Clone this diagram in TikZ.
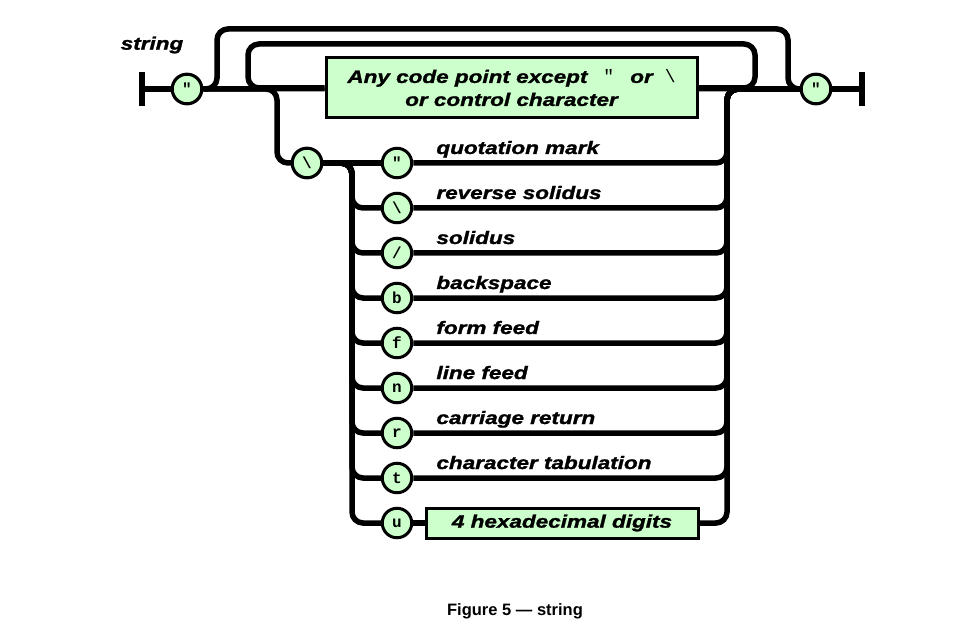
\documentclass[tikz,border=0pt]{standalone}
\usepackage{fontspec}
\setmainfont{Liberation Sans}
\newfontfamily\railfont[FakeStretch=1.25, BoldItalicFeatures={FakeBold=1.5}]{Liberation Sans}
\newfontfamily\termfont{Liberation Mono}
\definecolor{railgreen}{RGB}{204,255,204}
\begin{document}
\begin{tikzpicture}[x=1pt, y=-1pt,
        rail/.style = {line width=5.5pt, rounded corners=11pt},
        bar/.style = {fill=black, inner sep=0pt, minimum width=5.5pt, minimum height=34pt},
        term/.style = {circle, draw, line width=3pt, fill=railgreen, inner sep=0pt,
                       minimum size=29.5pt, font=\termfont\bfseries\fontsize{16}{16}\selectfont},
        nonterm/.style = {draw, line width=3pt, fill=railgreen, inner sep=0pt, align=center,
                          font=\railfont\bfseries\itshape\fontsize{18}{23}\selectfont},
        lbl/.style = {inner sep=0pt, anchor=base west,
                      font=\railfont\bfseries\itshape\fontsize{18}{18}\selectfont}]
    \useasboundingbox (0,0) rectangle (975,631);

    % name of the rule
    \node[lbl, anchor=center] (name) at (152,45) {string};

    % main line
    \node[bar] (start) at (142,89) {};
    \node[term] (open) at (187,89) {"};
    \node[nonterm, minimum width=371pt, minimum height=60pt] (anychar) at (511.5,88)
        {Any code point except\hspace{16pt}{\termfont\mdseries\upshape "}\hspace{16pt}or\hspace{12pt}{\termfont\mdseries\upshape\textbackslash}\\or control character};
    \node[term] (close) at (816,89) {"};
    \node[bar] (stop) at (862,89) {};

    \coordinate (outerL) at (217,29);
    \coordinate (outerR) at (788,29);
    \coordinate (innerL) at (248,44);
    \coordinate (innerR) at (755,44);
    \coordinate (escdrop) at (277,130);
    \coordinate (ret) at (727,89);

    \draw[rail] (start) -- (open);
    \draw[rail] (open) -- (anychar);
    \draw[rail] (anychar) -- (close);
    \draw[rail] (close) -- (stop);
    \draw[rail] (open.east) -| (outerL) -- (outerR) |- (close.west);
    \draw[rail] (anychar.east) -| (innerR) -- (innerL) |- (anychar.west);

    % escapes
    \node[term] (esc) at (307,163) {\textbackslash};
    \draw[rail] (open.east) -| (escdrop) |- (esc.west);

    \node[term] (quote) at (397,163) {"};
    \node[term] (rsolidus) at (397,208) {\textbackslash};
    \node[term] (solidus) at (397,253) {/};
    \node[term] (bksp) at (397,298) {b};
    \node[term] (ffeed) at (397,343) {f};
    \node[term] (lfeed) at (397,388) {n};
    \node[term] (cret) at (397,433) {r};
    \node[term] (tab) at (397,478) {t};
    \node[term] (hexu) at (397,523) {u};
    \node[nonterm, minimum width=272pt, minimum height=30pt] (hexdigits) at (562,523)
        {4 hexadecimal digits};

    \node[lbl] (lquote) at ([xshift=23pt,yshift=9pt]quote.east) {quotation mark};
    \node[lbl] (lrsolidus) at ([xshift=23pt,yshift=9pt]rsolidus.east) {reverse solidus};
    \node[lbl] (lsolidus) at ([xshift=23pt,yshift=9pt]solidus.east) {solidus};
    \node[lbl] (lbksp) at ([xshift=23pt,yshift=9pt]bksp.east) {backspace};
    \node[lbl] (lffeed) at ([xshift=23pt,yshift=9pt]ffeed.east) {form feed};
    \node[lbl] (llfeed) at ([xshift=23pt,yshift=9pt]lfeed.east) {line feed};
    \node[lbl] (lcret) at ([xshift=23pt,yshift=9pt]cret.east) {carriage return};
    \node[lbl] (ltab) at ([xshift=23pt,yshift=9pt]tab.east) {character tabulation};

    \coordinate (f2) at (352,208);
    \coordinate (f3) at (352,253);
    \coordinate (f4) at (352,298);
    \coordinate (f5) at (352,343);
    \coordinate (f6) at (352,388);
    \coordinate (f7) at (352,433);
    \coordinate (f8) at (352,478);
    \coordinate (f9) at (352,523);

    \draw[rail] (esc) -- (quote);
    \draw[rail] (esc.east) -| (f2) -- (rsolidus.west);
    \draw[rail] (esc.east) -| (f3) -- (solidus.west);
    \draw[rail] (esc.east) -| (f4) -- (bksp.west);
    \draw[rail] (esc.east) -| (f5) -- (ffeed.west);
    \draw[rail] (esc.east) -| (f6) -- (lfeed.west);
    \draw[rail] (esc.east) -| (f7) -- (cret.west);
    \draw[rail] (esc.east) -| (f8) -- (tab.west);
    \draw[rail] (esc.east) -| (f9) -- (hexu.west);

    \draw[rail] (quote.east) -| (ret) -- (close.west);
    \draw[rail] (rsolidus.east) -| (ret) -- (close.west);
    \draw[rail] (solidus.east) -| (ret) -- (close.west);
    \draw[rail] (bksp.east) -| (ret) -- (close.west);
    \draw[rail] (ffeed.east) -| (ret) -- (close.west);
    \draw[rail] (lfeed.east) -| (ret) -- (close.west);
    \draw[rail] (cret.east) -| (ret) -- (close.west);
    \draw[rail] (tab.east) -| (ret) -- (close.west);
    \draw[rail] (hexu) -- (hexdigits);
    \draw[rail] (hexdigits.east) -| (ret) -- (close.west);

    % redraw the boxes over the rails
    \node[term] at (open) {"};
    \node[term] at (close) {"};
    \node[term] at (esc) {\textbackslash};

    % caption
    \node[font=\bfseries\fontsize{16.5}{16.5}\selectfont] (caption) at (515,611) {Figure 5 — string};
\end{tikzpicture}
\end{document}
